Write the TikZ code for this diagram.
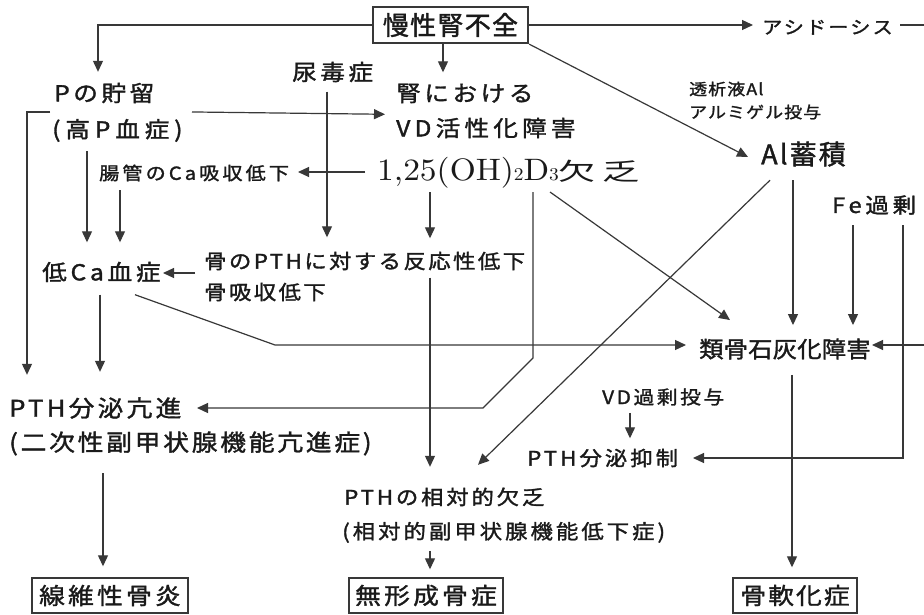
\documentclass[tikz,border=0pt]{standalone}
\usepackage{fontspec}
\usetikzlibrary{arrows.meta,calc}
\newfontfamily\jp{Noto Sans CJK JP}
\newfontfamily\lmr[FakeStretch=1.08]{lmroman10-regular.otf}
\definecolor{ink}{HTML}{1A1A1A}
\definecolor{lncol}{HTML}{383838}
\tikzset{
  lbl/.style n args={3}{font=\fontsize{#1}{#1}\selectfont\jp\addfontfeature{LetterSpace=#2,FakeStretch=#3,FakeBold=1.5},
    inner sep=0pt, anchor=west, text=ink,
    execute at begin node={\rule[-0.12em]{0pt}{1em}}},
  arr/.style={draw=lncol, line width=1.2pt, -{Triangle[length=11pt,width=10pt]}},
  endbox/.style n args={3}{draw=lncol, line width=1.4pt, minimum width=#1, minimum height=35pt,
    inner sep=0pt, text=ink,
    font=\fontsize{23}{23}\selectfont\jp\addfontfeature{LetterSpace=#2,FakeStretch=#3,FakeBold=1.5}}
}
\begin{document}
\begin{tikzpicture}[x=1pt,y=-1pt]
\useasboundingbox[fill=white] (0,0) rectangle (924,615);

% nodes
\node[draw=lncol, line width=2.2pt, minimum width=155, minimum height=36, inner sep=0pt, text=ink,
  font=\fontsize{26}{26}\selectfont\jp\addfontfeature{LetterSpace=5,FakeBold=1.5}] (ckd) at (450.5,25) {慢性腎不全};
\node[lbl={18}{12}{1.12}] (acid) at (762,27) {アシドーシス};
\node[lbl={22}{16}{1.12}] (pret) at (54,93) {Pの貯留};
\node[lbl={22}{22}{1.12}] (hyperp) at (52,130) {(高P血症)};
\node[lbl={22}{16}{1.12}] (uremia) at (292,72) {尿毒症};
\node[lbl={22}{16}{1.12}] (renal1) at (396,93) {腎における};
\node[lbl={22}{19}{1.12}] (renal2) at (396,128) {VD活性化障害};
\node[inner sep=0pt, anchor=base west, text=ink] (vd) at (377,180)
  {{\lmr\fontsize{31}{31}\selectfont 1,25(OH)}{\lmr\fontsize{18}{18}\selectfont 2}{\lmr\fontsize{31}{31}\selectfont D}{\lmr\fontsize{18}{18}\selectfont 3}{\jp\fontsize{24}{24}\selectfont\addfontfeature{LetterSpace=28,FakeStretch=1.55}欠乏}};
\node[lbl={18}{17}{1.12}] (gut) at (99,173) {腸管のCa吸収低下};
\node[lbl={22}{17}{1.12}] (hypoca) at (42,272) {低Ca血症};
\node[lbl={20}{12}{1.12}] (bone1) at (204,261) {骨のPTHに対する反応性低下};
\node[lbl={20}{12}{1.12}] (bone2) at (204,292) {骨吸収低下};
\node[lbl={27}{8}{1}] (al) at (761,154) {Al蓄積};
\node[lbl={16}{7}{1.12}] (dial1) at (689,89) {透析液Al};
\node[lbl={16}{7}{1.12}] (dial2) at (689,112) {アルミゲル投与};
\node[lbl={21}{18}{1.12}] (fe) at (832,205) {Fe過剰};
\node[lbl={22.5}{1}{1.08}] (osteoid) at (699,349) {類骨石灰化障害};
\node[lbl={23}{14}{1.12}] (pthup) at (9,408) {PTH分泌亢進};
\node[lbl={23}{12}{1.12}] (pthup2) at (9,443) {(二次性副甲状腺機能亢進症)};
\node[lbl={18.5}{14}{1.12}] (vdover) at (602,397) {VD過剰投与};
\node[lbl={20}{15}{1.12}] (pthsup) at (527,458) {PTH分泌抑制};
\node[lbl={20}{14}{1.12}] (pthrel) at (344,497) {PTHの相対的欠乏};
\node[lbl={20}{15}{1.12}] (pthrel2) at (342,532) {(相対的副甲状腺機能低下症)};
\node[endbox={156}{14}{1.12}] (box1) at (110,595.5) {線維性骨炎};
\node[endbox={154}{14}{1.12}] (box2) at (426,595.5) {無形成骨症};
\node[endbox={124}{9}{1.12}] (box3) at (795,595.5) {骨軟化症};

% connectors
\draw[arr] (ckd.west) -| ($(pret.north west)+(44,-10)$);
\draw[arr] ([xshift=-7.5pt]ckd.south) -- ($(renal1.north west)+(47,-9.5)$);
\draw[arr] (ckd.east) -- ($(acid.west)+(-9,-2)$);
\draw[arr] ($(acid.west)+(138,-2)$) -- (926,25) -- (926,345) -- ($(osteoid.west)+(173,-4)$);
\draw[arr] ($(hyperp.north west)+(-2,-6)$) -| ($(pthup.north west)+(18,-21.5)$);
\draw[arr] ($(hyperp.north west)+(140,-6)$) -- ($(renal2.north west)+(-11,-2.5)$);
\draw[arr] ($(uremia.south west)+(35,8.5)$) -- ($(bone1.north west)+(123,-13.5)$);
\draw[arr] ($(vd.base west)+(-12,-8)$) -- ($(gut.west)+(199,-1)$);
\draw[arr] ($(hyperp.south west)+(35,9)$) -- ($(hypoca.north west)+(45,-18.5)$);
\draw[arr] ($(gut.south west)+(21,8)$) -- ($(hypoca.north west)+(78,-18.5)$);
\draw[arr] ($(bone1.west)+(-9,12)$) -- ($(hypoca.west)+(121,1)$);
\draw[arr] ($(vd.base west)+(53,12)$) -- ($(bone1.north west)+(226,-12.5)$);
\draw[arr] ($(vd.base west)+(156,12)$) -- (533,358) -- (483,408) -- ($(pthup.west)+(188,0)$);
\draw[arr] ($(vd.base west)+(173,12)$) -- ($(osteoid.north west)+(31,-17.5)$);
\draw[arr] (ckd.south east) -- ($(al.west)+(-13,3)$);
\draw[arr] ($(hypoca.south west)+(93,11.5)$) -- (275,345) -- ($(osteoid.west)+(-13,-4)$);
\draw[arr] ($(hypoca.south west)+(58,11.5)$) -- ($(pthup.north west)+(91,-24.5)$);
\draw[arr] ($(al.south west)+(32,12.5)$) -- ($(osteoid.north west)+(94,-12.5)$);
\draw[arr] ($(al.south west)+(9,12.5)$) -- ($(pthrel.north west)+(134,-22)$);
\draw[arr] ($(fe.south west)+(21,9.5)$) -- ($(osteoid.north west)+(154,-12.5)$);
\draw[arr] ($(fe.south west)+(71,9.5)$) |- ($(pthsup.west)+(166,0)$);
\draw[arr] ($(vdover.south west)+(28,6.5)$) -- ($(pthsup.north west)+(103,-9.5)$);
\draw[arr] ($(bone1.south west)+(226,6.5)$) -- ($(pthrel.north west)+(86,-20)$);
\draw[arr] ($(osteoid.south west)+(93,14.5)$) -- ($(box3.north)+(-3,-10)$);
\draw[arr] ($(pthup2.south west)+(94,17.5)$) -- ($(box1.north)+(-7,-11)$);
\draw[arr] ($(pthrel2.south west)+(88,8)$) -- ($(box2.north)+(4,-8)$);
\end{tikzpicture}
\end{document}
